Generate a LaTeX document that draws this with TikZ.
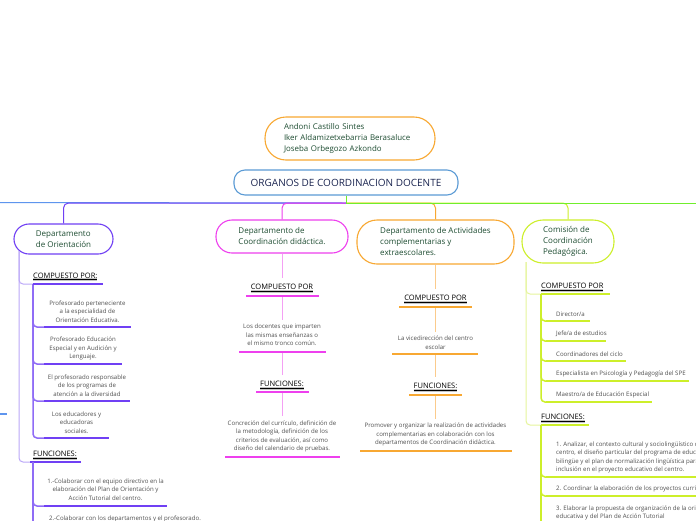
\documentclass[tikz,border=0pt]{standalone}
\usepackage{fontspec}
\setmainfont{Open Sans}
\usetikzlibrary{calc}
\definecolor{cpur}{HTML}{7040F4}
\definecolor{cpurm}{HTML}{8F6CF6}
\definecolor{cpurl}{HTML}{BBA8F8}
\definecolor{cmag}{HTML}{EE40EE}
\definecolor{cmagl}{HTML}{F4A0F4}
\definecolor{cora}{HTML}{F8A832}
\definecolor{coral}{HTML}{FBCB8C}
\definecolor{clime}{HTML}{CDEF2A}
\definecolor{climel}{HTML}{E6F59C}
\definecolor{cgreen}{HTML}{70EE2C}
\definecolor{cblue}{HTML}{5E95EE}
\definecolor{cmain}{HTML}{5B9BD5}
\definecolor{tgreen}{HTML}{1E4D32}
\definecolor{tnavy}{HTML}{1B2550}
\definecolor{tgray}{HTML}{4F4F4F}
\definecolor{hlgray}{HTML}{C4C4C4}
\newcommand\hlu[1]{\setbox0=\hbox{#1}\rlap{\textcolor{hlgray}{\rule[-3pt]{\wd0}{3.2pt}}}\rlap{\rule[-1.3pt]{\wd0}{0.5pt}}\box0}
\tikzset{
  pill/.style={draw, line width=1.1pt, fill=white, text=tgreen, align=left,
    font=\fontsize{8}{11}\selectfont, inner sep=0pt},
  small/.style={text=tgray, font=\fontsize{6.1}{8.5}\selectfont, align=center, inner xsep=0pt, inner ysep=4pt},
  smallw/.style={small, align=left},
  head/.style={text=black, font=\fontsize{7.5}{9}\selectfont, inner xsep=0pt, inner ysep=6pt},
  conn/.style={line width=1pt},
  ul/.style={line width=2pt},
  trunk/.style={line width=1.5pt, rounded corners=4},
}
\begin{document}
\begin{tikzpicture}[x=1pt,y=-1pt]
\useasboundingbox (0,0) rectangle (696,520);
\fill[white] (0,0) rectangle (696,520);
\clip (0,0) rectangle (696,520);

% ---------- top ----------
\node[pill, draw=cora, rounded corners=21, minimum width=170, minimum height=43, text width=132,
      font=\fontsize{7.9}{11}\selectfont] (auth) at (350,138.5)
  {Andoni Castillo Sintes\\Iker Aldamizetxebarria Berasaluce\\Joseba Orbegozo Azkondo};
\node[draw=cmain, line width=1.1pt, rounded corners=11, minimum width=224, minimum height=25,
      text=tnavy, font=\fontsize{10}{12}\selectfont, inner sep=0pt] (main) at (346,182.5)
  {ORGANOS DE COORDINACION DOCENTE};

\node[pill, draw=cpur, rounded corners=15, minimum width=99, minimum height=30] (orient) at (63.5,239)
  {Departamento\\de Orientación};
\node[pill, draw=cmag, rounded corners=16, minimum width=132, minimum height=33] (coord) at (282,236.5)
  {Departamento de\\Coordinación didáctica.};
\node[pill, draw=cora, rounded corners=20, minimum width=157, minimum height=44] (activ) at (435.5,242)
  {Departamento de Actividades\\complementarias y\\extraescolares.};
\node[pill, draw=clime, rounded corners=21, minimum width=92, minimum height=43] (comis) at (568,241.5)
  {Comisión de\\Coordinación\\Pedagógica.};

\coordinate (hub) at (346,203);
\coordinate (lend) at (0,202.5);
\coordinate (rend) at (696,203);
\draw[conn, cblue] (hub) -- (lend);
\draw[conn, cpur, rounded corners=5] (hub) -| (orient.north);
\draw[conn, cmag, rounded corners=5] (hub) -| (coord.north);
\draw[conn, cora, rounded corners=5] (hub) -| (activ.north);
\draw[conn, clime, rounded corners=5] (hub) -| (comis.north);
\draw[conn, cgreen] (main.south) -- (hub) -- (rend);

\coordinate (bl1) at (0,414);
\coordinate (bl2) at (7,414);
\draw[line width=1.2pt, cblue] (bl1) -- (bl2);

% ---------- column 1 ----------
\coordinate (o1) at (19,251);
\coordinate (c1ha) at (33,284);
\coordinate (c1hb) at (103,284);
\coordinate (c1fa) at (30,462);
\coordinate (c1fb) at (81,462);
\draw[conn, cpurl, rounded corners=4] (o1) |- (c1ha);
\draw[conn, cpurl, rounded corners=4] (o1) |- (c1fa);
\node[head, anchor=base west] (c1h) at (33,278) {\hlu{COMPUESTO POR:}};
\node[head, anchor=base west] (c1f) at (33,456.7) {\hlu{FUNCIONES:}};

\coordinate (u11a) at (44,327);  \coordinate (u11b) at (131,327);
\coordinate (u12a) at (44,364);  \coordinate (u12b) at (122,364);
\coordinate (u13a) at (44,401);  \coordinate (u13b) at (130,401);
\coordinate (u14a) at (44,438);  \coordinate (u14b) at (109,438);
\foreach \i in {1,...,4} {\draw[trunk, cpurm] (c1ha) |- (u1\i a);}
\foreach \i in {1,...,4} {\draw[ul, cpur] (u1\i a) -- (u1\i b);}
\draw[ul, cpur] (c1ha) -- (c1hb);
\draw[ul, cpur] (c1fa) -- (c1fb);
\node[small] (i11) at (87.5,311.5) {Profesorado perteneciente\\a la especialidad de\\Orientación Educativa.};
\node[small] (i12) at (83,348.5) {Profesorado Educación\\Especial y en Audición y\\Lenguaje.};
\node[small] (i13) at (87,385.5) {El profesorado responsable\\de los programas de\\atención a la diversidad};
\node[small] (i14) at (76.5,422.5) {Los educadores y\\educadoras\\sociales.};

\coordinate (f1t) at (33,462);
\coordinate (f1e) at (33,530);
\coordinate (u15a) at (44,506); \coordinate (u15b) at (167,506);
\draw[trunk, cpurm] (f1t) |- (u15a);
\draw[trunk, cpurm] (f1t) -- (f1e);
\draw[ul, cpur] (u15a) -- (u15b);
\node[small] (i15) at (105.5,489.5) {1.-Colaborar con el equipo directivo en la\\elaboración del Plan de Orientación y\\Acción Tutorial del centro.};
\node[small] (i16) at (125,518.5) {2.-Colaborar con los departamentos y el profesorado.};

% ---------- column 2 ----------
\node[head, anchor=base] (c2h) at (282,289.7) {\hlu{COMPUESTO POR}};
\coordinate (c2ha) at (246,296); \coordinate (c2hb) at (319,296);
\node[small] (c2i) at (282,335) {Los docentes que imparten\\las mismas enseñanzas o\\el mismo tronco común.};
\coordinate (c2ia) at (239,352); \coordinate (c2ib) at (326,352);
\node[head, anchor=base] (c2f) at (282,386.7) {\hlu{FUNCIONES:}};
\coordinate (c2fa) at (256,392); \coordinate (c2fb) at (309,392);
\node[small] (c2j) at (282,436.5) {Concreción del currículo, definición de\\la metodología, definición de los\\criterios de evaluación, así como\\diseño del calendario de pruebas.};
\coordinate (c2ja) at (225,457); \coordinate (c2jb) at (340,457);
\draw[conn, cmagl] (coord.south) -- (c2h.north);
\draw[conn, cmagl] (c2h.north |- c2ha) -- (c2i.north);
\draw[conn, cmagl] (c2i.north |- c2ia) -- (c2f.north);
\draw[conn, cmagl] (c2f.north |- c2fa) -- (c2j.north);
\draw[ul, cmag] (c2ha) -- (c2hb);
\draw[ul, cmag] (c2ia) -- (c2ib);
\draw[ul, cmag] (c2fa) -- (c2fb);
\draw[ul, cmag] (c2ja) -- (c2jb);

% ---------- column 3 ----------
\node[head, anchor=base] (c3h) at (435.5,300.7) {\hlu{COMPUESTO POR}};
\coordinate (c3ha) at (399,307); \coordinate (c3hb) at (472,307);
\node[small] (c3i) at (435.5,342.5) {La vicedirección del centro\\escolar};
\coordinate (c3ia) at (392,354); \coordinate (c3ib) at (478,354);
\node[head, anchor=base] (c3f) at (435.5,388.7) {\hlu{FUNCIONES:}};
\coordinate (c3fa) at (409,395); \coordinate (c3fb) at (462,395);
\node[small] (c3j) at (435.5,434.5) {Promover y organizar la realización de actividades\\complementarias en colaboración con los\\departamentos de Coordinación didáctica.};
\coordinate (c3ja) at (360,451); \coordinate (c3jb) at (512,451);
\draw[conn, coral] (activ.south) -- (c3h.north);
\draw[conn, coral] (c3h.north |- c3ha) -- (c3i.north);
\draw[conn, coral] (c3i.north |- c3ia) -- (c3f.north);
\draw[conn, coral] (c3f.north |- c3fa) -- (c3j.north);
\draw[ul, cora] (c3ha) -- (c3hb);
\draw[ul, cora] (c3ia) -- (c3ib);
\draw[ul, cora] (c3fa) -- (c3fb);
\draw[ul, cora] (c3ja) -- (c3jb);

% ---------- column 4 ----------
\coordinate (o4) at (526,262);
\coordinate (c4ha) at (541,294); \coordinate (c4hb) at (610,294);
\coordinate (c4fa) at (541,425); \coordinate (c4fb) at (589,425);
\draw[conn, climel, rounded corners=4] (o4) |- (c4ha);
\draw[conn, climel, rounded corners=4] (o4) |- (c4fa);
\node[head, anchor=base west] (c4h) at (541,288.7) {\hlu{COMPUESTO POR}};
\node[head, anchor=base west] (c4f) at (541,419.7) {\hlu{FUNCIONES:}};

\coordinate (u41a) at (546,321); \coordinate (u41b) at (590,321);
\coordinate (u42a) at (546,341); \coordinate (u42b) at (606,341);
\coordinate (u43a) at (546,361); \coordinate (u43b) at (626,361);
\coordinate (u44a) at (546,381); \coordinate (u44b) at (689,381);
\coordinate (u45a) at (546,402); \coordinate (u45b) at (652,402);
\foreach \i in {1,...,5} {\draw[trunk, clime] (c4ha) |- (u4\i a);}
\foreach \i in {1,...,5} {\draw[ul, clime] (u4\i a) -- (u4\i b);}
\draw[ul, clime] (c4ha) -- (c4hb);
\draw[ul, clime] (c4fa) -- (c4fb);
\node[smallw, anchor=west] (i41) at (556,314) {Director/a};
\node[smallw, anchor=west] (i42) at (556,334) {Jefe/a de estudios};
\node[smallw, anchor=west] (i43) at (556,354) {Coordinadores del ciclo};
\node[smallw, anchor=west] (i44) at (556,374) {Especialista en Psicología y Pedagogía del SPE};
\node[smallw, anchor=west] (i45) at (556,395) {Maestro/a de Educación Especial};

\coordinate (f4e) at (541,530);
\coordinate (u46a) at (546,477); \coordinate (u46b) at (700,477);
\coordinate (u47a) at (546,496); \coordinate (u47b) at (700,496);
\draw[trunk, clime] (c4fa) |- (u46a);
\draw[trunk, clime] (c4fa) |- (u47a);
\draw[trunk, clime] (c4fa) -- (f4e);
\draw[ul, clime] (u46a) -- (u46b);
\draw[ul, clime] (u47a) -- (u47b);
\node[smallw, anchor=west] (i46) at (556,457.5) {1. Analizar, el contexto cultural y sociolingüístico del\\centro, el diseño particular del programa de educación\\bilingüe y el plan de normalización lingüística para su\\inclusión en el proyecto educativo del centro.};
\node[smallw, anchor=west] (i47) at (556,489) {2. Coordinar la elaboración de los proyectos curriculares};
\node[smallw, anchor=west] (i48) at (556,513) {3. Elaborar la propuesta de organización de la orientación\\educativa y del Plan de Acción Tutorial};
\end{tikzpicture}
\end{document}
